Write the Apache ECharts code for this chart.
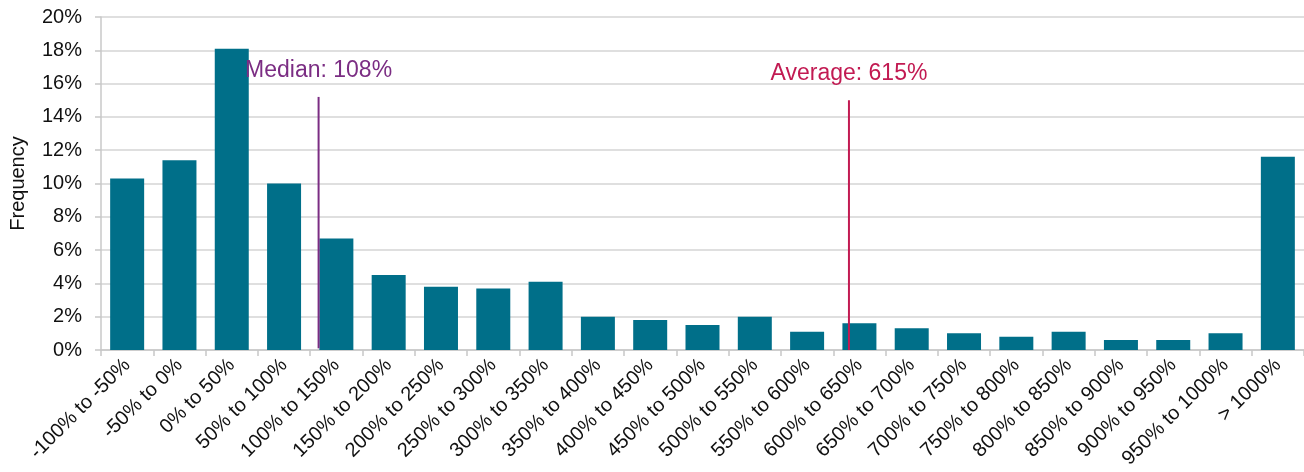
<!DOCTYPE html>
<html>
<head>
<meta charset="utf-8">
<script src="https://cdn.jsdelivr.net/npm/echarts@6/dist/echarts.min.js"></script>
<style>
  html, body { margin: 0; padding: 0; background: #fff; }
  #chart { width: 1304px; height: 472px; }
</style>
</head>
<body>
<div id="chart"></div>
<script>
// Return buckets (50-point bins plus an open-ended top bin)
const categories = [
  '-100% to -50%', '-50% to 0%', '0% to 50%', '50% to 100%', '100% to 150%',
  '150% to 200%', '200% to 250%', '250% to 300%', '300% to 350%', '350% to 400%',
  '400% to 450%', '450% to 500%', '500% to 550%', '550% to 600%', '600% to 650%',
  '650% to 700%', '700% to 750%', '750% to 800%', '800% to 850%', '850% to 900%',
  '900% to 950%', '950% to 1000%', '> 1000%'
];
// Share of observations in each bucket, percent
const frequency = [
  10.3, 11.4, 18.1, 10.0, 6.7,
  4.5, 3.8, 3.7, 4.1, 2.0,
  1.8, 1.5, 2.0, 1.1, 1.6,
  1.3, 1.0, 0.8, 1.1, 0.6,
  0.6, 1.0, 11.6
];
const yTicks = { min: 0, max: 20, interval: 2 };
// Summary statistics of the return, percent
const medianValue = 108;
const averageValue = 615;
// Height of the marker lines, percent frequency
const medianLine = [0.1, 15.2];
const averageLine = [0, 15.0];
// Continuous return scale under the buckets: -100% .. 1050%
const returnScale = { min: -100, max: 1050 };

const font = '"Liberation Sans", Arial, sans-serif';
const chart = echarts.init(document.getElementById('chart'), null, { renderer: 'canvas' });

function markerSeries(name, value, span, color, text) {
  return {
    name: name,
    type: 'line',
    xAxisIndex: 1,
    yAxisIndex: 0,
    symbol: 'circle',
    symbolSize: 0,
    showSymbol: true,
    silent: true,
    lineStyle: { color: color, width: 2 },
    itemStyle: { color: color },
    labelLayout: { hideOverlap: false },
    data: [
      { value: [value, span[0]], label: { show: false } },
      {
        value: [value, span[1]],
        label: {
          show: true,
          position: 'top',
          distance: 15,
          formatter: text,
          color: color,
          fontFamily: font,
          fontSize: 23
        }
      }
    ],
    z: 5
  };
}

chart.setOption({
  animation: false,
  backgroundColor: '#ffffff',
  grid: { left: 101, right: 0, top: 17, bottom: 122, containLabel: false, outerBoundsMode: 'none' },
  xAxis: [
    {
      type: 'category',
      data: categories,
      boundaryGap: true,
      axisLine: { show: true, lineStyle: { color: '#c8c8c8', width: 1.5 } },
      axisTick: { show: true, length: 6, interval: 0, lineStyle: { color: '#c8c8c8', width: 1.5 } },
      axisLabel: {
        interval: 0,
        rotate: 45,
        margin: 12,
        color: '#111',
        fontFamily: font,
        fontSize: 20
      }
    },
    {
      type: 'value',
      min: returnScale.min,
      max: returnScale.max,
      show: false
    }
  ],
  yAxis: {
    type: 'value',
    min: yTicks.min,
    max: yTicks.max,
    interval: yTicks.interval,
    name: 'Frequency',
    nameLocation: 'middle',
    nameGap: 73,
    nameTextStyle: { color: '#111', fontFamily: font, fontSize: 20 },
    axisLine: { show: true, onZero: false, lineStyle: { color: '#c8c8c8', width: 1.5 } },
    axisTick: { show: true, length: 6, lineStyle: { color: '#c8c8c8', width: 1.5 } },
    axisLabel: {
      formatter: '{value}%',
      margin: 19,
      color: '#111',
      fontFamily: font,
      fontSize: 20
    },
    splitLine: { show: true, lineStyle: { color: '#d4d4d4', width: 1.5 } }
  },
  series: [
    {
      name: 'Frequency',
      type: 'bar',
      data: frequency,
      barCategoryGap: '35%',
      itemStyle: { color: '#006f89' },
      z: 2
    },
    markerSeries('Median', medianValue, medianLine, '#7b2d83', 'Median: ' + medianValue + '%'),
    markerSeries('Average', averageValue, averageLine, '#c21a52', 'Average: ' + averageValue + '%')
  ]
});
</script>
</body>
</html>
